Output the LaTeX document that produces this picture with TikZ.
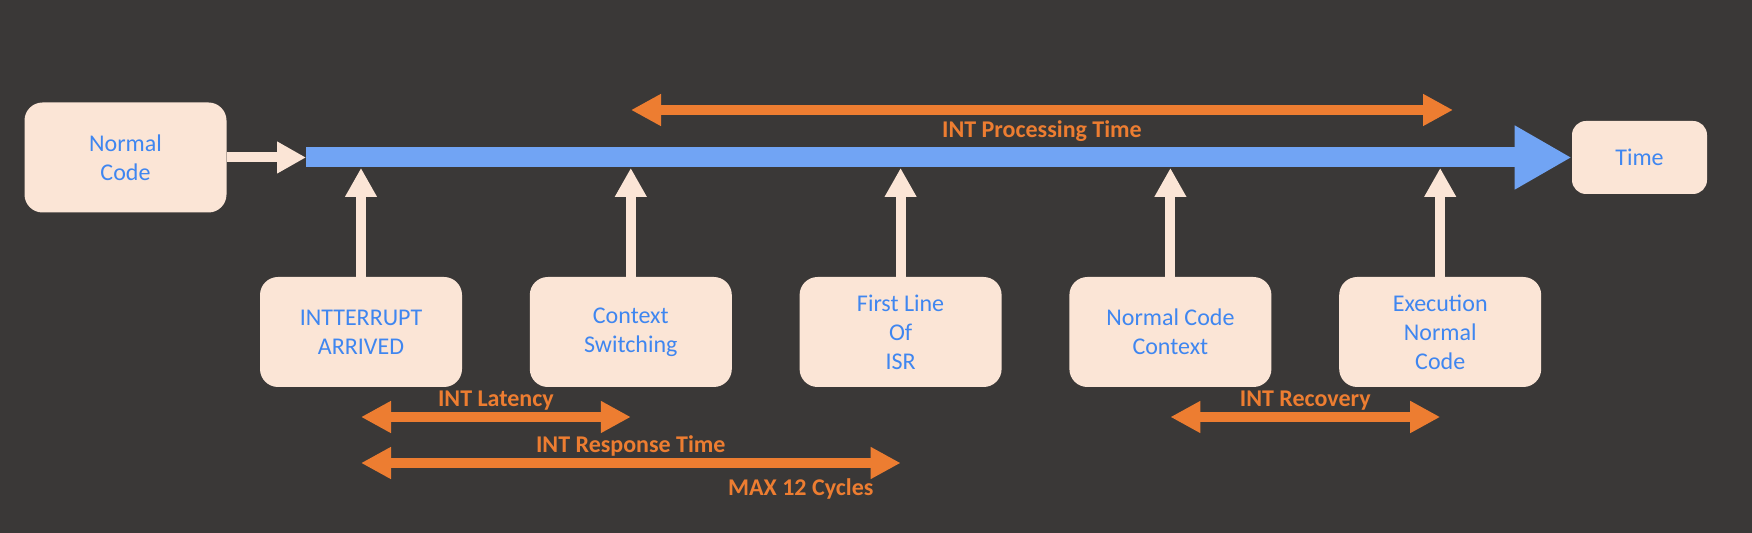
\documentclass[tikz,border=0pt]{standalone}
\usepackage{fontspec}
\setmainfont{Carlito}
\usetikzlibrary{arrows.meta,positioning}

\definecolor{bgdark}{HTML}{3A3837}
\definecolor{boxfill}{HTML}{FBE5D6}
\definecolor{boxtext}{HTML}{3F86F0}
\definecolor{barblue}{HTML}{71A4F4}
\definecolor{spanorange}{HTML}{ED7D31}

\tikzset{
  box/.style       = {shape=rectangle, rounded corners=9pt,
                      fill=boxfill, text=boxtext, align=center,
                      font=\fontsize{12}{14.5}\selectfont,
                      minimum width=101pt, minimum height=55pt, inner sep=0pt},
  timebox/.style   = {box, rounded corners=7pt,
                      minimum width=67.5pt, minimum height=36.5pt},
  feed/.style      = {draw=boxfill, line width=5pt,
                      -{Triangle[length=14.5pt,width=15pt]}},
  timeline/.style  = {draw=barblue, line width=10pt,
                      -{Triangle[length=28.5pt,width=30pt]}},
  span/.style      = {draw=spanorange, line width=5pt,
                      {Triangle[length=15pt,width=15pt]}-{Triangle[length=15pt,width=15pt]}},
  spanlabel/.style = {text=spanorange, inner sep=3pt,
                      font=\fontsize{12}{14}\selectfont\bfseries},
  spanabove/.style = {spanlabel, above, yshift=-2pt}
}

\begin{document}
\begin{tikzpicture}[x=0.5pt, y=-0.5pt]
  \useasboundingbox (0,0) rectangle (1752,533);
  \fill[bgdark] (0,0) rectangle (1752,533);

  % time line
  \node [box] (normal) at (125.5,157.5) {Normal\\Code};
  \node [timebox] (time) at (1639.5,157.5) {Time};
  \coordinate (start) at (306,157.5);
  \coordinate (barlow) at (0,168);
  \draw [timeline] (start) -- (time.west);
  \draw [feed] (normal.east) -- (start);

  % events
  \node [box] (irq) at (361,332) {INTTERRUPT\\ARRIVED};
  \node [box, right=33.5pt of irq] (ctx) {Context\\Switching};
  \node [box, right=33.5pt of ctx] (isr) {First Line\\Of\\ISR};
  \node [box, right=33.5pt of isr] (ncc) {Normal Code\\Context};
  \node [box, right=33.5pt of ncc] (exec) {Execution\\Normal\\Code};
  \foreach \ev in {irq,ctx,isr,ncc,exec}
    \draw [feed] (\ev.north) -- (\ev.north |- barlow);

  % spans
  \coordinate (pstart) at (631,110);
  \coordinate (pend) at (1453,110);
  \coordinate (lat) at (0,417);
  \coordinate (resp) at (0,463);
  \draw [span] (pstart) -- (pend)
    node [midway, below, spanlabel] {INT Processing Time};
  \draw [span] (irq |- lat) -- (ctx |- lat)
    node [midway, spanabove] {INT Latency};
  \draw [span] (irq |- resp) -- (isr |- resp)
    node [midway, spanabove] {INT Response Time}
    node [pos=0.815, below, yshift=-2.5pt, spanlabel] {MAX 12 Cycles};
  \draw [span] (ncc |- lat) -- (exec |- lat)
    node [midway, spanabove] {INT Recovery};
\end{tikzpicture}
\end{document}
